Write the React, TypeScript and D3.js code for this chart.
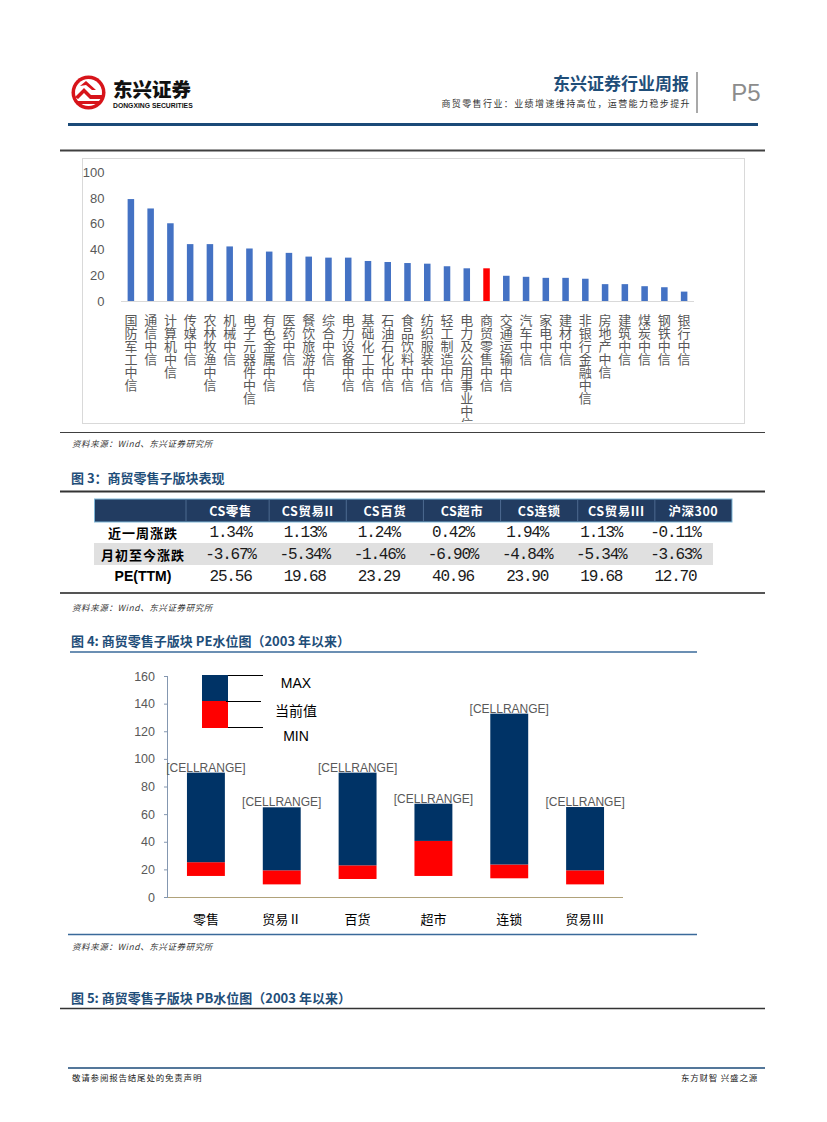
import React from 'react';
import * as d3 from 'd3';

// ---------- Data ----------
const industries = ['国防军工中信', '通信中信', '计算机中信', '传媒中信', '农林牧渔中信', '机械中信', '电子元器件中信', '有色金属中信', '医药中信', '餐饮旅游中信', '综合中信', '电力设备中信', '基础化工中信', '石油石化中信', '食品饮料中信', '纺织服装中信', '轻工制造中信', '电力及公用事业中信', '商贸零售中信', '交通运输中信', '汽车中信', '家电中信', '建材中信', '非银行金融中信', '房地产中信', '建筑中信', '煤炭中信', '钢铁中信', '银行中信'];
const industryPE = [79.2, 71.9, 60.4, 44.2, 44.2, 42.4, 40.8, 38.4, 37.4, 34.5, 33.7, 33.7, 31.1, 30.3, 29.5, 29.0, 27.0, 25.4, 25.4, 19.6, 18.8, 18.0, 18.0, 17.3, 13.1, 13.1, 11.5, 10.7, 7.3];
const highlightIndustry = '商贸零售中信';
const topTicks = [0, 20, 40, 60, 80, 100];

const tableCols = ['CS零售', 'CS贸易II', 'CS百货', 'CS超市', 'CS连锁', 'CS贸易III', '沪深300'];
const rowLabels = ['近一周涨跌', '月初至今涨跌', 'PE(TTM)'];
const weekChg = [1.34, 1.13, 1.24, 0.42, 1.94, 1.13, -0.11];
const mtdChg = [-3.67, -5.34, -1.46, -6.9, -4.84, -5.34, -3.63];
const peTTM = [25.56, 19.68, 23.29, 40.96, 23.9, 19.68, 12.7];

const sectors = ['零售', '贸易Ⅱ', '百货', '超市', '连锁', '贸易Ⅲ'];
const peMin = [15.6, 9.5, 13.4, 15.6, 13.9, 9.5];
const peCur = [25.56, 19.68, 23.29, 40.96, 23.9, 19.68];
const peMax = [90.4, 65.3, 90.4, 67.9, 133.1, 65.5];
const waterTicks = [0, 20, 40, 60, 80, 100, 120, 140, 160];
const legendLabels = ['MAX', '当前值', 'MIN'];

// ---------- Styles ----------
const CJK = '"Noto Sans CJK SC", "Noto Sans", sans-serif';
const SANS = '"Liberation Sans", Arial, sans-serif';
const NAVY_TITLE = '#1f4e79';
const BAR_BLUE = '#4472c4';
const DARK_NAVY = '#003366';
const RED = '#ff0000';

const Logo = () => (
  <g>
    <circle cx={88.5} cy={92.5} r={17} fill="#d7141a" />
    <circle cx={88.5} cy={92.5} r={13.5} fill="#ffffff" />
    <path d="M75,97 L84,88 L91,95 L102,95 L102,99 L90,99 L84,93 L78,99 Z" fill="#d7141a" />
    <path d="M75,101 L102,101 L101,104 L77,104 Z" fill="#d7141a" />
    <path d="M80,86 L86,81 L96,90 L92,90 L86,85 Z" fill="#d7141a" />
  </g>
);

const TopChart = () => {
  const x = d3.scaleBand<string>().domain(industries).range([121, 694]).paddingInner(0.67).paddingOuter(0.335);
  const y = d3.scaleLinear().domain([0, 100]).range([301, 172.3]);
  return (
    <g>
      <defs>
        <clipPath id="topclip">
          <rect x={82} y={158} width={663} height={264} />
        </clipPath>
      </defs>
      <rect x={82.5} y={158.5} width={662} height={265} fill="#ffffff" stroke="#d9d9d9" strokeWidth={1} />
      {topTicks.map((t) => (
        <text key={t} x={104.5} y={y(t)} textAnchor="end" dominantBaseline="central" fontFamily={SANS} fontSize={13} fill="#595959">
          {t}
        </text>
      ))}
      <line x1={121} x2={694} y1={301.5} y2={301.5} stroke="#d9d9d9" strokeWidth={1} />
      {industries.map((c, i) => (
        <rect key={c} x={x(c)} y={y(industryPE[i])} width={x.bandwidth()} height={y(0) - y(industryPE[i])} fill={c === highlightIndustry ? RED : BAR_BLUE} />
      ))}
      <g clipPath="url(#topclip)">
        {industries.map((c) => {
          const cx = (x(c) as number) + x.bandwidth() / 2;
          return (
            <text key={c} x={cx} y={313.5} fontFamily={CJK} fontSize={13} fill="#595959" style={{ writingMode: 'vertical-rl', textOrientation: 'upright' } as React.CSSProperties}>
              {c}
            </text>
          );
        })}
      </g>
    </g>
  );
};

const fmtPct = (v: number) => `${v.toFixed(2)}%`;

const Table = () => {
  const x = d3.scaleBand<string>().domain(tableCols).range([192, 732]);
  const rowY = d3.scaleBand<string>().domain(rowLabels).range([543 - 22, 543 + 44]);
  const rows = [weekChg.map(fmtPct), mtdChg.map(fmtPct), peTTM.map((v) => v.toFixed(2))];
  return (
    <g>
      <rect x={94.5} y={499} width={637.5} height={23} fill="#223c61" stroke="#7fb6d6" strokeWidth={1} />
      {[186, ...tableCols.slice(1).map((c) => x(c) as number)].map((sx, i) => (
        <line key={i} x1={sx} x2={sx} y1={500} y2={521} stroke="#4d6a90" strokeWidth={1} />
      ))}
      {tableCols.map((c) => (
        <text key={c} x={(x(c) as number) + x.bandwidth() / 2} y={510.5} textAnchor="middle" dominantBaseline="central" fontFamily={CJK} fontWeight={700} fontSize={12.5} fill="#ffffff" letterSpacing={0.5}>
          {c}
        </text>
      ))}
      <rect x={94} y={543} width={619} height={22} fill="#e0e0e0" />
      {rowLabels.map((r, ri) => {
        const cy = (rowY(r) as number) + rowY.bandwidth() / 2;
        return (
          <g key={r}>
            <text x={143} y={cy} textAnchor="middle" dominantBaseline="central" fontFamily={ri === 2 ? SANS : CJK} fontWeight={700} fontSize={ri === 2 ? 14 : 13} fill="#000000" letterSpacing={ri === 2 ? 0 : 1}>
              {r}
            </text>
            {rows[ri].map((v, ci) => (
              <text key={ci} x={(x(tableCols[ci]) as number) + x.bandwidth() / 2 - 3 * ci} y={cy + 1} textAnchor="middle" dominantBaseline="central" fontFamily='"Liberation Mono", "DejaVu Sans Mono", monospace' fontSize={16} letterSpacing={-1.2} fill="#1a1a1a">
                {v}
              </text>
            ))}
          </g>
        );
      })}
    </g>
  );
};

const WaterChart = () => {
  const x = d3.scaleBand<string>().domain(sectors).range([168, 623]).paddingInner(0.5).paddingOuter(0.25);
  const y = d3.scaleLinear().domain([0, 160]).range([897.5, 676.5]);
  return (
    <g>
      <line x1={167.5} x2={167.5} y1={676} y2={898} stroke="#8497b0" strokeWidth={1} />
      {waterTicks.map((t) => (
        <g key={t}>
          <line x1={164} x2={168} y1={y(t)} y2={y(t)} stroke="#8497b0" strokeWidth={1} />
          <text x={155} y={y(t)} textAnchor="end" dominantBaseline="central" fontFamily={SANS} fontSize={12.5} fill="#595959">
            {t}
          </text>
        </g>
      ))}
      {sectors.map((s, i) => (
        <g key={s}>
          <rect x={x(s)} y={y(peCur[i])} width={x.bandwidth()} height={y(peMin[i]) - y(peCur[i])} fill={RED} />
          <rect x={x(s)} y={y(peMax[i])} width={x.bandwidth()} height={y(peCur[i]) - y(peMax[i])} fill={DARK_NAVY} />
          <text x={(x(s) as number) + x.bandwidth() / 2} y={y(peMax[i]) - 1} textAnchor="middle" fontFamily={SANS} fontSize={12} fill="#595959">
            [CELLRANGE]
          </text>
          <text x={(x(s) as number) + x.bandwidth() / 2} y={918} textAnchor="middle" dominantBaseline="central" fontFamily={CJK} fontSize={13} fill="#000000">
            {s}
          </text>
        </g>
      ))}
      <line x1={168} x2={623} y1={897.5} y2={897.5} stroke="#b0a27a" strokeWidth={1} />
      {/* legend */}
      <rect x={202} y={675} width={26} height={26} fill={DARK_NAVY} />
      <rect x={202} y={701} width={26} height={27} fill={RED} />
      <line x1={228} x2={263} y1={675.5} y2={675.5} stroke="#000" strokeWidth={1} />
      <line x1={226} x2={261} y1={701.5} y2={701.5} stroke="#000" strokeWidth={1} />
      <line x1={228} x2={263} y1={727.5} y2={727.5} stroke="#000" strokeWidth={1} />
      {legendLabels.map((l, i) => (
        <text key={l} x={296} y={[683, 710, 736][i]} textAnchor="middle" dominantBaseline="central" fontFamily={i === 1 ? CJK : SANS} fontSize={14} fill="#000000">
          {l}
        </text>
      ))}
    </g>
  );
};

const Source = ({ y }: { y: number }) => (
  <text x={72} y={y} dominantBaseline="central" fontFamily={CJK} fontStyle="italic" fontSize={8.5} fill="#333333" letterSpacing={0.6}>
    资料来源：Wind、东兴证券研究所
  </text>
);

const FigTitle = ({ y, text }: { y: number; text: string }) => (
  <text x={71} y={y} dominantBaseline="central" fontFamily={CJK} fontWeight={700} fontSize={13} fill={NAVY_TITLE}>
    {text}
  </text>
);

export default function App() {
  return (
    <svg width={827} height={1122} viewBox="0 0 827 1122" style={{ position: 'absolute', left: 0, top: 0, background: '#ffffff' }}>
      <rect x={0} y={0} width={827} height={1122} fill="#ffffff" />
      {/* header */}
      <Logo />
      <text x={113} y={88.5} dominantBaseline="central" fontFamily={CJK} fontWeight={900} fontSize={19.5} fill="#111111">
        东兴证券
      </text>
      <text x={113} y={105.5} dominantBaseline="central" fontFamily={SANS} fontWeight={700} fontSize={6.8} fill="#111111">
        DONGXING SECURITIES
      </text>
      <text x={689} y={82} textAnchor="end" dominantBaseline="central" fontFamily={CJK} fontWeight={700} fontSize={17} fill={NAVY_TITLE}>
        东兴证券行业周报
      </text>
      <text x={691} y={103.5} textAnchor="end" dominantBaseline="central" fontFamily={CJK} fontSize={9} letterSpacing={1.4} fill="#333333">
        商贸零售行业：业绩增速维持高位，运营能力稳步提升
      </text>
      <line x1={697} x2={697} y1={72} y2={113} stroke="#8c8c8c" strokeWidth={1.5} />
      <text x={746} y={92} textAnchor="middle" dominantBaseline="central" fontFamily={SANS} fontSize={24} fill="#8c8c8c">
        P5
      </text>
      <line x1={68} x2={758} y1={124.5} y2={124.5} stroke="#1b4a78" strokeWidth={3} />

      {/* top chart */}
      <line x1={60} x2={765} y1={150.5} y2={150.5} stroke="#404040" strokeWidth={2} />
      <TopChart />
      <line x1={60} x2={765} y1={432.5} y2={432.5} stroke="#404040" strokeWidth={1} />
      <Source y={443} />

      {/* table */}
      <FigTitle y={477} text="图 3：商贸零售子版块表现" />
      <line x1={60} x2={765} y1={491.5} y2={491.5} stroke="#333333" strokeWidth={2} />
      <Table />
      <line x1={60} x2={765} y1={593} y2={593} stroke="#555555" strokeWidth={2} />
      <Source y={607} />

      {/* water chart */}
      <FigTitle y={640} text="图 4: 商贸零售子版块 PE水位图（2003 年以来）" />
      <line x1={70} x2={697} y1={652} y2={652} stroke="#3a6a9a" strokeWidth={1.5} />
      <WaterChart />
      <line x1={68} x2={697} y1={934.5} y2={934.5} stroke="#3a6a9a" strokeWidth={1.5} />
      <Source y={946} />

      <FigTitle y={997} text="图 5: 商贸零售子版块 PB水位图（2003 年以来）" />
      <line x1={60} x2={765} y1={1008.5} y2={1008.5} stroke="#333333" strokeWidth={1.5} />

      {/* footer */}
      <line x1={68} x2={765} y1={1068} y2={1068} stroke="#1b4a78" strokeWidth={1.5} />
      <text x={72} y={1077} dominantBaseline="central" fontFamily={CJK} fontSize={8.5} letterSpacing={0.8} fill="#222222">
        敬请参阅报告结尾处的免责声明
      </text>
      <text x={758} y={1077} textAnchor="end" dominantBaseline="central" fontFamily={CJK} fontSize={8.5} letterSpacing={0.8} fill="#222222">
        东方财智 兴盛之源
      </text>
    </svg>
  );
}
